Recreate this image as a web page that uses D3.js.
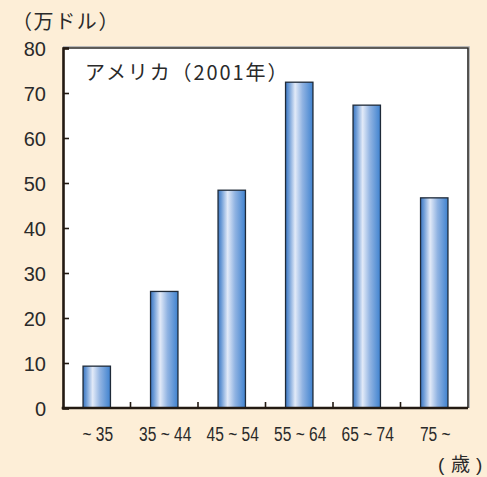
<!DOCTYPE html>
<html>
<head>
<meta charset="utf-8">
<script src="https://cdn.jsdelivr.net/npm/d3@7"></script>
<style>
  html, body { margin: 0; padding: 0; background: #fdeed7; }
  svg { display: block; }
</style>
</head>
<body>
<svg id="chart" width="487" height="477"></svg>
<script>
// Household net worth by age of head, United States, 2001 (10,000 USD)
const ageGroups = ["~ 35", "35 ~ 44", "45 ~ 54", "55 ~ 64", "65 ~ 74", "75 ~"];
const netWorth = [9.3, 25.9, 48.4, 72.4, 67.3, 46.7];
const yTicks = [0, 10, 20, 30, 40, 50, 60, 70, 80];
const titleText = "アメリカ（2001年）";
const yUnit = "（万ドル）";
const xUnitWord = "歳";

const svg = d3.select("#chart");
const W = 487, H = 477;
const plot = { left: 63, right: 468, top: 48, bottom: 408 };

svg.append("rect").attr("width", W).attr("height", H).attr("fill", "#fdeed7");

const x = d3.scaleBand()
  .domain(ageGroups)
  .range([plot.left, plot.right])
  .paddingInner(0.594)
  .paddingOuter(0.297);

const y = d3.scaleLinear().domain([0, 80]).range([plot.bottom, plot.top]);

// gradient for the cylinder-like bars
const defs = svg.append("defs");
const grad = defs.append("linearGradient").attr("id", "barGrad")
  .attr("x1", "0%").attr("x2", "100%").attr("y1", "0%").attr("y2", "0%");
grad.append("stop").attr("offset", "0%").attr("stop-color", "#3b76c2");
grad.append("stop").attr("offset", "12%").attr("stop-color", "#6c9bd6");
grad.append("stop").attr("offset", "35%").attr("stop-color", "#e2eaf8");
grad.append("stop").attr("offset", "62%").attr("stop-color", "#90b3e2");
grad.append("stop").attr("offset", "100%").attr("stop-color", "#3f82cf");

// plot area
svg.append("rect")
  .attr("x", plot.left).attr("y", plot.top)
  .attr("width", plot.right - plot.left).attr("height", plot.bottom - plot.top)
  .attr("fill", "#ffffff");
// light outer shadow of frame
svg.append("path")
  .attr("d", `M${plot.left},${plot.top - 1.5}H${plot.right + 1.5}V${plot.bottom}`)
  .attr("fill", "none").attr("stroke", "#b8b8b8").attr("stroke-width", 1);
svg.append("path")
  .attr("d", `M${plot.left},${plot.top}H${plot.right}V${plot.bottom}`)
  .attr("fill", "none").attr("stroke", "#2a2a2a").attr("stroke-width", 1.6);

// bars
svg.append("g").selectAll("rect")
  .data(netWorth)
  .join("rect")
  .attr("x", (d, i) => x(ageGroups[i]))
  .attr("y", d => y(d))
  .attr("width", x.bandwidth())
  .attr("height", d => y(0) - y(d))
  .attr("fill", "url(#barGrad)")
  .attr("stroke", "#1f2a38")
  .attr("stroke-width", 1.3);

// y axis with inward ticks
const yAxis = d3.axisLeft(y).tickValues(yTicks).tickSize(-6).tickPadding(17).tickFormat(d3.format("d"));
const gy = svg.append("g").attr("transform", `translate(${plot.left},0)`).call(yAxis);
gy.select(".domain").attr("stroke", "#231a12").attr("stroke-width", 2.6);
gy.selectAll(".tick line").attr("stroke", "#231a12").attr("stroke-width", 1.6);
gy.selectAll(".tick text")
  .attr("font-family", "'Liberation Sans', Arial, sans-serif")
  .attr("font-size", 20).attr("fill", "#2a2a2a").attr("dy", "0.36em");

// x axis: baseline and small inward ticks between groups
const boundaries = ageGroups.slice(1).map(g => x(g) - x.step() * x.paddingInner() / 2);
const gx = svg.append("g");
gx.append("line")
  .attr("x1", plot.left - 1.3).attr("x2", plot.right)
  .attr("y1", y(0)).attr("y2", y(0))
  .attr("stroke", "#231a12").attr("stroke-width", 2.6);
gx.selectAll("line.tk").data(boundaries).join("line").attr("class", "tk")
  .attr("x1", d => d).attr("x2", d => d)
  .attr("y1", y(0)).attr("y2", y(0) - 6)
  .attr("stroke", "#231a12").attr("stroke-width", 1.6);

// condensed category labels
gx.selectAll("text").data(ageGroups).join("text")
  .attr("transform", d => `translate(${x(d) + x.bandwidth() / 2 + 1},441) scale(0.74,1)`)
  .attr("text-anchor", "middle")
  .attr("font-family", "'Liberation Sans', Arial, sans-serif")
  .attr("font-size", 21).attr("fill", "#2a2a2a")
  .text(d => d);

const cjk = "'Noto Sans CJK JP', 'Noto Sans', sans-serif";
svg.append("text").attr("x", 85).attr("y", 80)
  .attr("font-family", cjk).attr("font-size", 20).attr("letter-spacing", 1.9).attr("fill", "#2a2a2a")
  .text(titleText);
svg.append("text").attr("x", 12).attr("y", 29)
  .attr("font-family", cjk).attr("font-size", 20).attr("letter-spacing", 1.6).attr("fill", "#2a2a2a")
  .text(yUnit);

// x-axis unit "( 歳 )"
const xu = svg.append("text").attr("y", 471)
  .attr("font-family", "'Liberation Sans', Arial, sans-serif")
  .attr("font-size", 19).attr("fill", "#2a2a2a");
xu.append("tspan").attr("x", 438).text("(");
xu.append("tspan").attr("x", 451).attr("font-family", cjk).text(xUnitWord);
xu.append("tspan").attr("x", 476).text(")");
</script>
</body>
</html>
